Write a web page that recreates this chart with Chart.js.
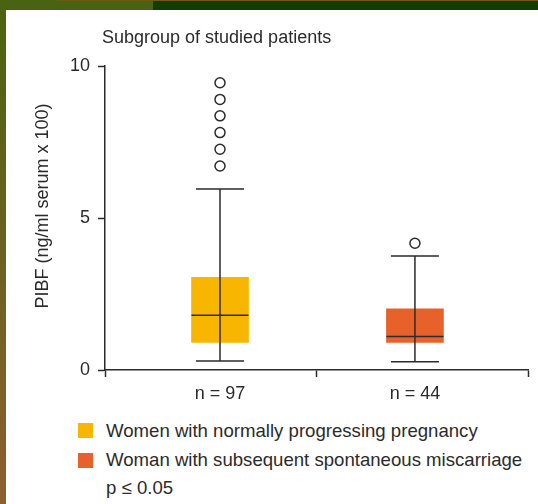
<!DOCTYPE html>
<html>
<head>
<meta charset="utf-8">
<script src="https://cdn.jsdelivr.net/npm/chart.js@4/dist/chart.umd.min.js"></script>
<style>
html,body{margin:0;padding:0;background:#fff;}
body{width:538px;height:504px;position:relative;overflow:hidden;font-family:"Liberation Sans",Arial,Helvetica,sans-serif;color:#2b2b2b;}
#topbar{position:absolute;left:0;top:0;width:538px;height:10px;background:linear-gradient(to right,#4a6312 0,#4a6312 153px,#143b01 153px,#143b01 100%);}
#topline{position:absolute;left:57px;top:0;width:481px;height:1px;background:#6b5a10;}
#leftbar{position:absolute;left:0;top:0;width:6px;height:504px;background:linear-gradient(to bottom,#4a6312,#8e5f30);}
#title{position:absolute;left:102px;top:26px;font-size:18px;line-height:22px;white-space:nowrap;}
#ytitle{position:absolute;left:-78px;top:195px;width:240px;height:22px;font-size:18px;line-height:22px;text-align:center;white-space:nowrap;transform:rotate(-90deg);transform-origin:50% 50%;}
#wrap{position:absolute;left:0;top:0;width:538px;height:420px;}
.leg{position:absolute;left:106px;font-size:18.6px;line-height:22px;white-space:nowrap;}
.sw{position:absolute;left:78px;width:15px;height:15px;}
</style>
</head>
<body>
<div id="topbar"></div>
<div id="topline"></div>
<div id="leftbar"></div>
<div id="wrap"><canvas id="c"></canvas></div>
<div id="title"></div>
<div id="ytitle"></div>
<div class="sw" id="sw0" style="top:423px;"></div>
<div class="leg" id="leg0" style="top:420px;"></div>
<div class="sw" id="sw1" style="top:453px;"></div>
<div class="leg" id="leg1" style="top:449px;"></div>
<div class="leg" id="note" style="top:477px;"></div>
<script>
// ---- data ----
const chartTitle = 'Subgroup of studied patients';
const yAxisTitle = 'PIBF (ng/ml serum x 100)';
const groupLabels = ['n = 97', 'n = 44'];
const seriesNames = ['Women with normally progressing pregnancy', 'Woman with subsequent spontaneous miscarriage'];
const whiskerLow = [0.30, 0.27];
const q1 = [0.91, 0.91];
const median = [1.80, 1.10];
const q3 = [3.05, 2.01];
const whiskerHigh = [5.95, 3.75];
const outliers = [[6.71, 7.26, 7.81, 8.36, 8.90, 9.45], [4.17]];
const yTicks = [0, 5, 10];
const note = 'p \u2264 0.05';

// ---- styles ----
const boxColors = ['#f8b600', '#e8602a'];
const ink = '#2b2b2b';
const FONT = '"Liberation Sans", Arial, Helvetica, sans-serif';
const X_MIN = -0.59, X_MAX = 1.58;
const CAP = 24;

document.getElementById('title').textContent = chartTitle;
document.getElementById('ytitle').textContent = yAxisTitle;
document.getElementById('leg0').textContent = seriesNames[0];
document.getElementById('leg1').textContent = seriesNames[1];
document.getElementById('note').textContent = note;
document.getElementById('sw0').style.background = boxColors[0];
document.getElementById('sw1').style.background = boxColors[1];

Chart.defaults.font.family = FONT;
Chart.defaults.color = ink;

const whiskerPlugin = {
  id: 'whiskers',
  afterDatasetsDraw(chart) {
    const {ctx} = chart;
    const x = chart.scales.x, y = chart.scales.y;
    const bars = chart.getDatasetMeta(0).data;
    ctx.save();
    ctx.strokeStyle = ink;
    ctx.lineWidth = 1.5;
    groupLabels.forEach((_, i) => {
      const cx = x.getPixelForValue(i);
      const yl = y.getPixelForValue(whiskerLow[i]);
      const yh = y.getPixelForValue(whiskerHigh[i]);
      const ym = y.getPixelForValue(median[i]);
      const b = bars[i];
      ctx.beginPath();
      ctx.moveTo(cx, yl); ctx.lineTo(cx, yh);
      ctx.moveTo(cx - CAP, yl); ctx.lineTo(cx + CAP, yl);
      ctx.moveTo(cx - CAP, yh); ctx.lineTo(cx + CAP, yh);
      ctx.moveTo(b.x - b.width / 2, ym); ctx.lineTo(b.x + b.width / 2, ym);
      ctx.stroke();
    });
    ctx.restore();
  }
};

new Chart(document.getElementById('c'), {
  type: 'bar',
  data: {
    datasets: [
      {
        type: 'bar',
        data: groupLabels.map((l, i) => ({x: i, y: [q1[i], q3[i]]})),
        backgroundColor: boxColors,
        borderWidth: 0,
        barThickness: 57,
        order: 2
      },
      {
        type: 'scatter',
        data: outliers.flatMap((arr, i) => arr.map(v => ({x: i, y: v}))),
        pointStyle: 'circle',
        pointRadius: 5,
        pointHoverRadius: 5,
        backgroundColor: 'rgba(255,255,255,0)',
        borderColor: ink,
        borderWidth: 1.5,
        order: 1
      }
    ]
  },
  options: {
    responsive: true,
    maintainAspectRatio: false,
    animation: false,
    events: [],
    layout: {padding: {left: 20, top: 66, right: 10, bottom: 0}},
    plugins: {legend: {display: false}, tooltip: {enabled: false}, title: {display: false}},
    scales: {
      x: {
        type: 'linear',
        min: X_MIN,
        max: X_MAX,
        offset: false,
        afterBuildTicks: s => { s.ticks = [X_MIN, 0, (X_MIN + X_MAX) / 2, 1, X_MAX].map(v => ({value: v})); },
        ticks: {
          autoSkip: false, maxRotation: 0, padding: 6, color: ink,
          font: {size: 18},
          callback: v => Number.isInteger(v) ? groupLabels[v] : ''
        },
        grid: {
          offset: false,
          drawOnChartArea: false, drawTicks: true, tickLength: 7, tickWidth: 1.5,
          tickColor: c => (c.tick && Number.isInteger(c.tick.value)) ? 'rgba(0,0,0,0)' : ink
        },
        border: {color: ink, width: 1.5},
        afterFit: s => { s.height = 50; }
      },
      y: {
        min: 0,
        max: 10,
        afterBuildTicks: s => { s.ticks = yTicks.map(v => ({value: v})); },
        ticks: {padding: 8, color: ink, font: {size: 18}},
        grid: {offset: false, drawOnChartArea: false, drawTicks: true, tickLength: 7, tickWidth: 1.5, tickColor: ink},
        border: {color: ink, width: 1.5},
        title: {display: false},
        afterFit: s => { s.width = 85; }
      }
    }
  },
  plugins: [whiskerPlugin]
});
</script>
</body>
</html>
